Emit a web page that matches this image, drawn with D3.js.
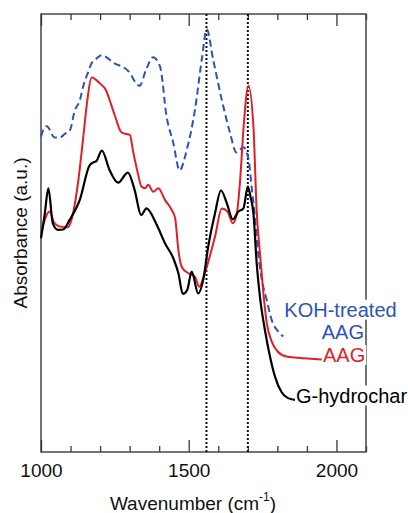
<!DOCTYPE html>
<html>
<head>
<meta charset="utf-8">
<script src="https://cdn.jsdelivr.net/npm/d3@7/dist/d3.min.js"></script>
<style>
  html, body { margin: 0; padding: 0; background: #fff; }
  svg { display: block; }
  text { font-family: "Liberation Sans", Arial, sans-serif; }
</style>
</head>
<body>
<svg id="chart" width="408" height="513"></svg>
<script>
// ---- data (wavenumber cm-1, absorbance a.u.) ----
const gHydrocharWn = [1000,1012,1025,1040,1058,1075,1097,1131,1165,1180,1187,1206,1232,1261,1294,1317,1339,1357,1392,1420,1448,1465,1480,1495,1510,1532,1549,1566,1589,1609,1629,1649,1668,1685,1700,1710,1719,1730,1741,1758,1775,1792,1814,1836,1860];
const gHydrocharAbs = [0.488,0.540,0.602,0.522,0.507,0.508,0.530,0.575,0.655,0.662,0.664,0.688,0.644,0.615,0.638,0.598,0.541,0.556,0.518,0.476,0.442,0.408,0.361,0.370,0.412,0.362,0.393,0.469,0.545,0.597,0.568,0.531,0.549,0.556,0.606,0.580,0.545,0.431,0.355,0.278,0.218,0.172,0.137,0.123,0.119];

const aagWn = [1000,1029,1046,1069,1091,1103,1125,1142,1157,1171,1200,1220,1233,1251,1272,1289,1301,1311,1328,1340,1352,1363,1380,1397,1420,1442,1454,1465,1476,1499,1521,1536,1549,1566,1589,1612,1631,1649,1662,1674,1685,1702,1719,1730,1741,1752,1764,1781,1800,1830,1870,1950];
const aagAbs = [0.499,0.549,0.522,0.514,0.513,0.530,0.613,0.712,0.804,0.855,0.841,0.826,0.802,0.766,0.730,0.726,0.724,0.689,0.636,0.606,0.602,0.610,0.594,0.602,0.575,0.553,0.534,0.461,0.423,0.408,0.400,0.377,0.397,0.434,0.492,0.556,0.549,0.522,0.541,0.621,0.735,0.836,0.743,0.550,0.454,0.368,0.295,0.252,0.230,0.218,0.215,0.211];

const kohWn = [1000,1012,1020,1046,1064,1080,1098,1114,1132,1142,1160,1170,1183,1205,1247,1284,1295,1333,1357,1379,1403,1425,1448,1469,1493,1521,1544,1561,1583,1612,1640,1661,1685,1702,1713,1724,1735,1747,1764,1781,1803,1820];
const kohAbs = [0.720,0.741,0.744,0.718,0.718,0.726,0.735,0.779,0.804,0.833,0.868,0.886,0.895,0.906,0.888,0.876,0.870,0.836,0.875,0.901,0.880,0.766,0.705,0.643,0.689,0.781,0.895,0.965,0.895,0.804,0.728,0.684,0.696,0.670,0.605,0.537,0.455,0.395,0.347,0.301,0.275,0.264];

const markerLines = [1560, 1700];
const majorTicks = [1000, 1500, 2000];
const minorTicks = [1100, 1200, 1300, 1400, 1600, 1700, 1800, 1900, 2100];
const xTitle = "Wavenumber (cm";
const yTitle = "Absorbance (a.u.)";

// ---- layout ----
const L = 41, R = 366, T = 14, B = 452;
const svg = d3.select("#chart");
const x = d3.scaleLinear().domain([1000, 2100]).range([L, R]);
const y = d3.scaleLinear().domain([0, 1]).range([B, T]);

// frame
svg.append("rect").attr("x", L).attr("y", T).attr("width", R - L).attr("height", B - T)
  .attr("fill", "none").attr("stroke", "#3a3a3a").attr("stroke-width", 1.4);

// ticks
function tickAxis(axisFn, vals, size, ty, labels) {
  const g = svg.append("g").attr("transform", `translate(0,${ty})`)
    .call(axisFn(x).tickValues(vals).tickSize(-size).tickPadding(11.5)
      .tickFormat(labels ? d3.format("d") : ""));
  g.select(".domain").remove();
  g.selectAll(".tick line").attr("stroke", "#3a3a3a").attr("stroke-width", 1.3);
  g.selectAll("text").attr("font-size", 19).attr("fill", "#111");
  return g;
}
tickAxis(d3.axisBottom, majorTicks, 12, B, true);
tickAxis(d3.axisBottom, minorTicks, 6, B, false);
const topMaj = tickAxis(d3.axisTop, majorTicks, 12, T, false);
tickAxis(d3.axisTop, minorTicks, 6, T, false);

// dotted marker lines
svg.selectAll(".marker").data(markerLines).enter().append("line")
  .attr("x1", d => x(d)).attr("x2", d => x(d)).attr("y1", T).attr("y2", B)
  .attr("stroke", "#111").attr("stroke-width", 2).attr("stroke-dasharray", "2,2");

// curves
const line = d3.line().x(d => x(d[0])).y(d => y(d[1])).curve(d3.curveMonotoneX);
const zip = (a, b) => a.map((v, i) => [v, b[i]]);

svg.append("path").datum(zip(kohWn, kohAbs)).attr("d", line)
  .attr("fill", "none").attr("stroke", "#2f52b8").attr("stroke-width", 2)
  .attr("stroke-dasharray", "7,4");
svg.append("path").datum(zip(aagWn, aagAbs)).attr("d", line)
  .attr("fill", "none").attr("stroke", "#e01f26").attr("stroke-width", 2);
svg.append("path").datum(zip(gHydrocharWn, gHydrocharAbs)).attr("d", line)
  .attr("fill", "none").attr("stroke", "#000").attr("stroke-width", 2.2);

// series labels with white backgrounds
function label(txt, xx, yy, anchor, color) {
  const g = svg.append("g");
  const t = g.append("text").attr("x", xx).attr("y", yy).attr("text-anchor", anchor)
    .attr("font-size", 20).attr("fill", color).text(txt);
  const bb = t.node().getBBox();
  g.insert("rect", "text").attr("x", bb.x - 1).attr("y", bb.y + 1)
    .attr("width", bb.width + 2).attr("height", bb.height - 2).attr("fill", "#fff");
}
label("KOH-treated", 340.5, 316.7, "middle", "#2f52b8");
label("AAG", 364, 339, "end", "#2f52b8");
label("AAG", 323, 362, "start", "#e01f26");
label("G-hydrochar", 296, 402.5, "start", "#000");

// axis titles
const xt = svg.append("text").attr("x", 193).attr("y", 510).attr("text-anchor", "middle")
  .attr("font-size", 19).attr("fill", "#111");
xt.append("tspan").text(xTitle);
xt.append("tspan").attr("font-size", 12).attr("dy", -9).text("-1");
xt.append("tspan").attr("dy", 9).text(")");

svg.append("text").attr("transform", "translate(26.7,233) rotate(-90)")
  .attr("text-anchor", "middle").attr("font-size", 19).attr("fill", "#111").text(yTitle);
</script>
</body>
</html>
